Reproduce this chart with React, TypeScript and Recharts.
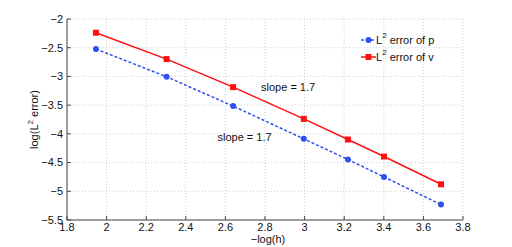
import { LineChart, Line, XAxis, YAxis, CartesianGrid, ReferenceDot } from "recharts";

const logH = [1.946, 2.303, 2.639, 2.996, 3.219, 3.401, 3.689];
const errP = [-2.523, -3.006, -3.517, -4.087, -4.447, -4.75, -5.232];
const errV = [-2.239, -2.698, -3.186, -3.739, -4.099, -4.395, -4.878];
const xTicks = [1.8, 2, 2.2, 2.4, 2.6, 2.8, 3, 3.2, 3.4, 3.6, 3.8];
const yTicks = [-5.5, -5, -4.5, -4, -3.5, -3, -2.5, -2];
const seriesNames = ["error of p", "error of v"];
const slopeNotes = [
  { x: 2.78, y: -3.18, text: "slope = 1.7" },
  { x: 2.56, y: -4.05, text: "slope = 1.7" },
];

const data = logH.map((x, i) => ({ x, p: errP[i], v: errV[i] }));

const BLUE = "#2f4ff0";
const RED = "#ff1010";
const FONT = "'Liberation Sans', Arial, sans-serif";

const fmt = (v: number) => (v < 0 ? "\u2212" + String(Math.abs(v)) : String(v));

function Square(props: any) {
  const { cx, cy } = props;
  if (cx == null || cy == null) return null;
  return <rect x={cx - 3} y={cy - 3} width={6} height={6} fill={RED} />;
}

function LegendBox() {
  const items = [
    { name: seriesNames[0], color: BLUE, dash: "3 2", marker: "circle" },
    { name: seriesNames[1], color: RED, dash: undefined, marker: "square" },
  ];
  return (
    <div style={{ position: "absolute", left: 361, top: 31, fontFamily: FONT, fontSize: 11, color: "#111" }}>
      {items.map((it) => (
        <div key={it.name} style={{ display: "flex", alignItems: "center", height: 17 }}>
          <svg width={15} height={10}>
            <line x1={0} y1={5} x2={15} y2={5} stroke={it.color} strokeWidth={1.5} strokeDasharray={it.dash} />
            {it.marker === "circle" ? (
              <circle cx={7.5} cy={5} r={3} fill={it.color} />
            ) : (
              <rect x={4.5} y={2} width={6} height={6} fill={it.color} />
            )}
          </svg>
          <span style={{ marginLeft: 0 }}>
            L<sup style={{ fontSize: 8, verticalAlign: "6px", lineHeight: 0 }}>2</sup> {it.name}
          </span>
        </div>
      ))}
    </div>
  );
}

export default function App() {
  return (
    <div style={{ position: "absolute", left: 0, top: 0, width: 512, height: 247, background: "#fff" }}>
      <LineChart width={512} height={247} data={data} margin={{ top: 19, right: 49, bottom: 0, left: 0 }}>
        <CartesianGrid stroke="#cfcfcf" strokeDasharray="1 2" horizontal vertical />
        <XAxis
          dataKey="x"
          type="number"
          domain={[1.8, 3.8]}
          ticks={xTicks}
          tickFormatter={fmt}
          height={27}
          tickSize={-4}
          tickMargin={7}
          stroke="#444"
          tick={{ fill: "#111", fontSize: 11, fontFamily: FONT }}
          label={(props: any) => {
            const vb = props.viewBox;
            return (
              <text x={vb.x + vb.width / 2 + 3} y={vb.y + 23} textAnchor="middle" fontSize={11} fontFamily={FONT} fill="#111">
                {"\u2212log(h)"}
              </text>
            );
          }}
        />
        <XAxis xAxisId="top" dataKey="x" type="number" domain={[1.8, 3.8]} ticks={xTicks} orientation="top" height={0} tick={false} tickSize={-4} stroke="#444" />
        <YAxis
          type="number"
          domain={[-5.5, -2]}
          ticks={yTicks}
          tickFormatter={fmt}
          width={67}
          tickSize={-4}
          tickMargin={8}
          stroke="#444"
          tick={{ fill: "#111", fontSize: 11, fontFamily: FONT }}
          label={(props: any) => {
            const vb = props.viewBox;
            const cx = vb.x + 38;
            const cy = vb.y + vb.height / 2;
            return (
              <text x={cx} y={cy} transform={`rotate(-90 ${cx} ${cy})`} textAnchor="middle" fontSize={11} fontFamily={FONT} fill="#111">
                log(L<tspan dy={-5} fontSize={8}>2</tspan>
                <tspan dy={5}> error)</tspan>
              </text>
            );
          }}
        />
        <YAxis yAxisId="right" type="number" domain={[-5.5, -2]} ticks={yTicks} orientation="right" width={0} tick={false} tickSize={-4} stroke="#444" />
        <Line
          dataKey="p"
          stroke={BLUE}
          strokeWidth={1.5}
          strokeDasharray="3 2"
          dot={{ r: 3, fill: BLUE, stroke: BLUE, strokeWidth: 0, strokeDasharray: "" }}
          isAnimationActive={false}
          legendType="none"
        />
        <Line dataKey="v" stroke={RED} strokeWidth={1.5} dot={<Square />} isAnimationActive={false} legendType="none" />
        {slopeNotes.map((n, i) => (
          <ReferenceDot
            key={i}
            x={n.x}
            y={n.y}
            r={0}
            fill="none"
            stroke="none"
            label={{ value: n.text, position: "right", offset: 0, fill: "#111", fontSize: 11, fontFamily: FONT }}
          />
        ))}
      </LineChart>
      <LegendBox />
    </div>
  );
}
